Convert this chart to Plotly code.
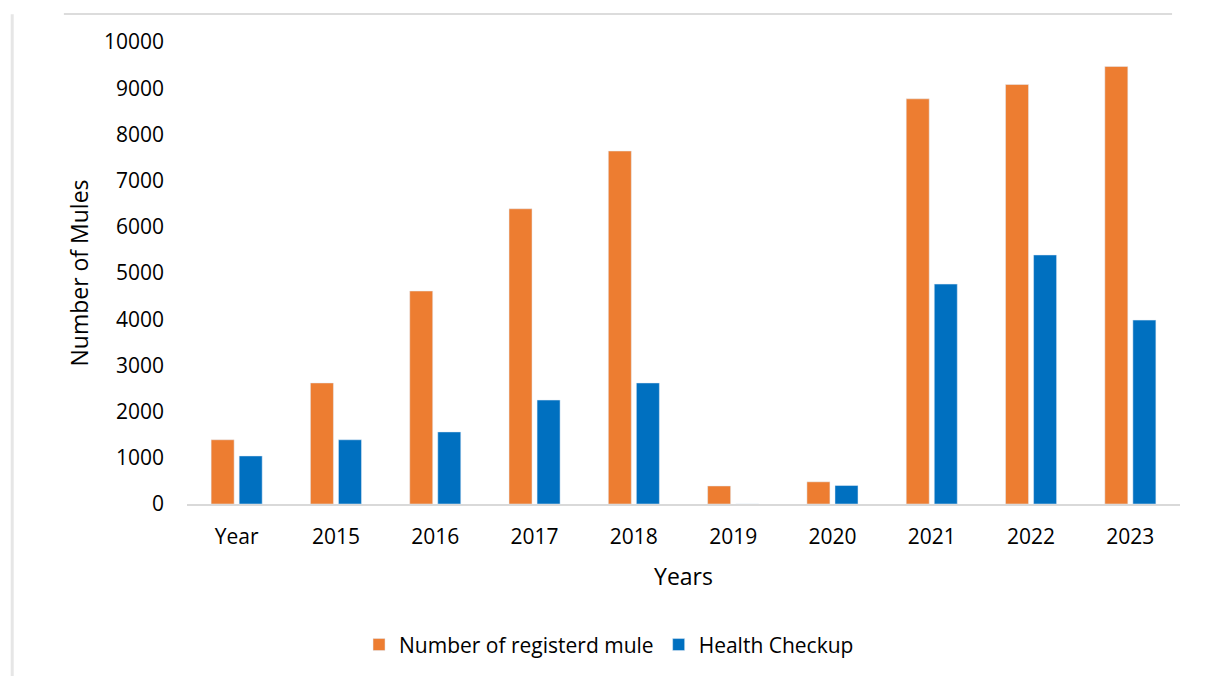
import plotly.graph_objects as go

categories = ["Year", "2015", "2016", "2017", "2018", "2019", "2020", "2021", "2022", "2023"]
registered = [1390, 2620, 4610, 6390, 7640, 390, 480, 8770, 9080, 9470]
health_checkup = [1040, 1390, 1560, 2250, 2620, 0, 400, 4760, 5390, 3980]
y_ticks = list(range(0, 10001, 1000))

FONT = "Open Sans, Lato, sans-serif"

fig = go.Figure()
fig.add_trace(go.Bar(
    x = categories, y = registered,
    name = "Number of registerd mule",
    marker = dict(color = "#ED7D31"),
))
fig.add_trace(go.Bar(
    x = categories, y = health_checkup,
    name = "Health Checkup",
    marker = dict(color = "#0070C0"),
))

# page has an 8px body margin, margins below account for it
fig.update_layout(
    width = 1208, height = 676,
    margin = dict(l = 179, r = 36, t = 34, b = 180),
    paper_bgcolor = "white", plot_bgcolor = "white",
    font = dict(family = FONT, size = 21, color = "black"),
    barmode = "group", bargap = 0.435, bargroupgap = 0.18,
    legend = dict(
        orientation = "h", x = 0.425, xanchor = "center",
        y = -0.305, yanchor = "middle",
        font = dict(size = 21), itemwidth = 30,
    ),
    showlegend = True,
)
fig.update_xaxes(
    showline = True, linecolor = "#d9d9d9", linewidth = 1.5,
    showgrid = False, ticks = "", ticklabelstandoff = 13,
    title = dict(text = "Years", standoff = 20, font = dict(size = 23)),
)
fig.update_yaxes(
    range = [0, 10000], tickvals = y_ticks, tickformat = "d",
    showgrid = False, zeroline = False, showline = False, ticks = "",
    ticklabelstandoff = 22,
    title = dict(text = "Number of Mules", standoff = 8, font = dict(size = 23)),
)

# light frame lines around the chart
fig.add_shape(type = "line", xref = "paper", yref = "paper",
    x0 = -0.124, x1 = 0.992, y0 = 1.0606, y1 = 1.0606,
    line = dict(color = "#dcdcdc", width = 2))
fig.add_shape(type = "line", xref = "paper", yref = "paper",
    x0 = -0.176, x1 = -0.176, y0 = 1.06, y1 = -0.42,
    line = dict(color = "#e6e6e6", width = 3))

fig.write_html("out.html")
